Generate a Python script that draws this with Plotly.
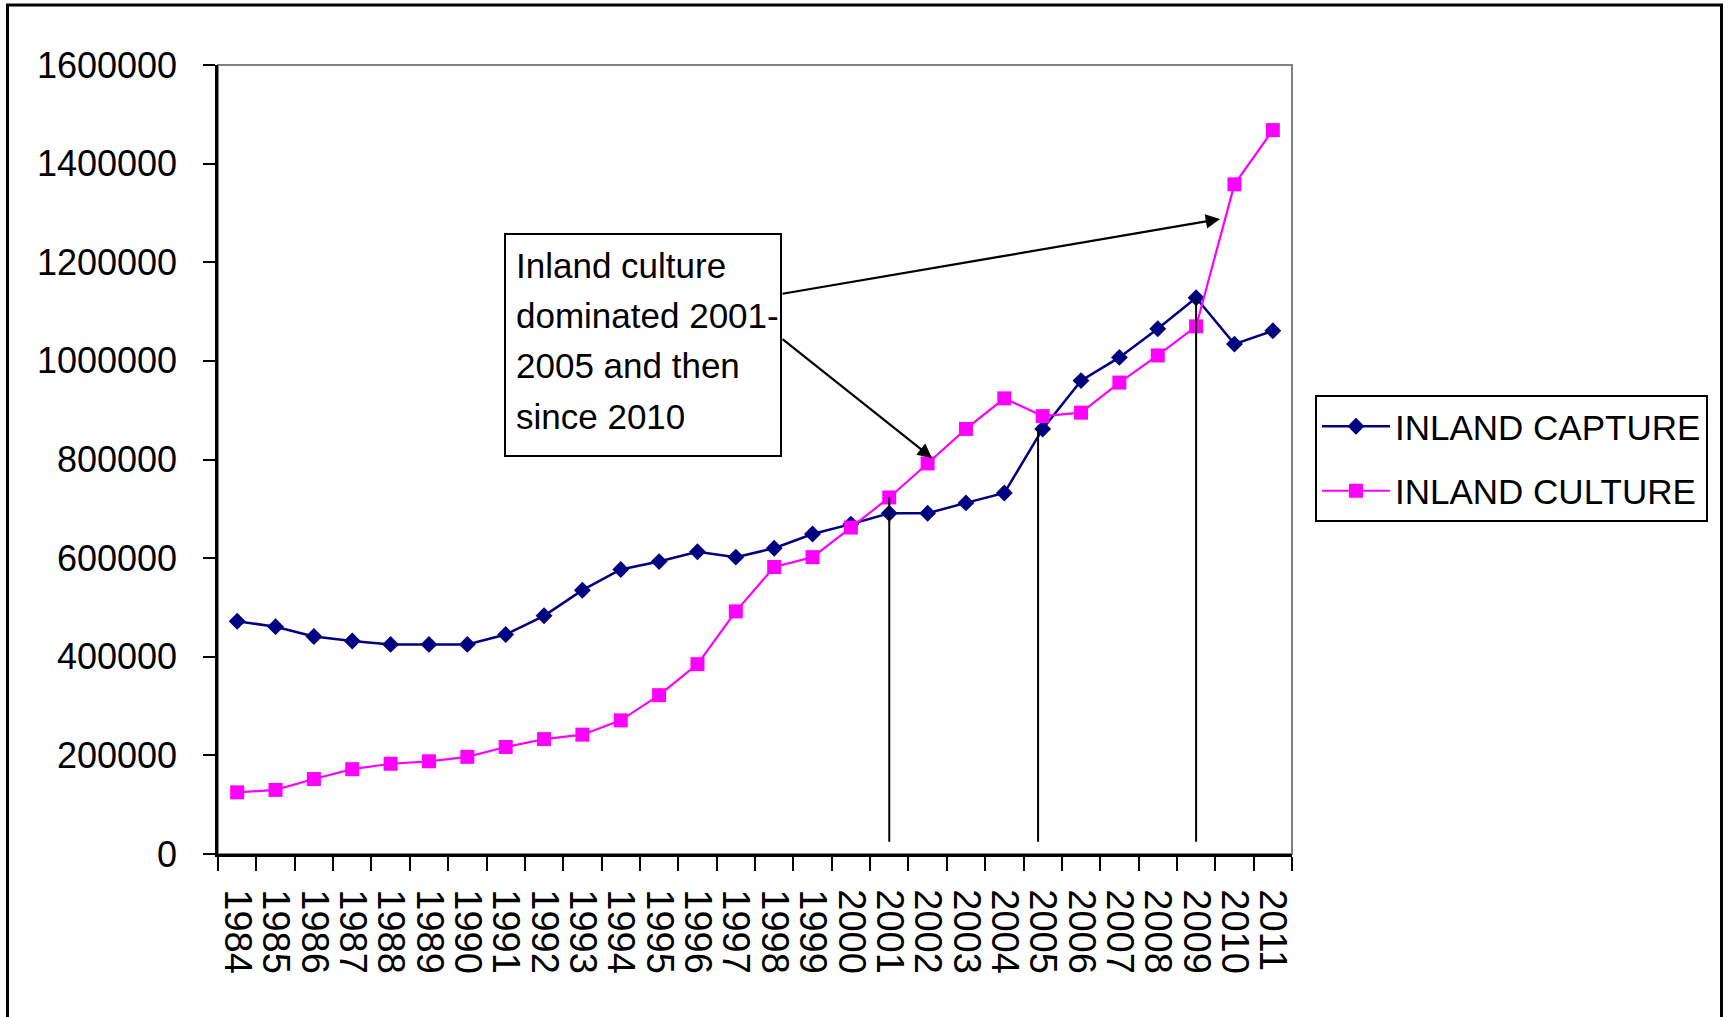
import plotly.graph_objects as go

# Inland fish production by year (tonnes)
YEARS = ["1984", "1985", "1986", "1987", "1988", "1989", "1990", "1991",
         "1992", "1993", "1994", "1995", "1996", "1997", "1998", "1999",
         "2000", "2001", "2002", "2003", "2004", "2005", "2006", "2007",
         "2008", "2009", "2010", "2011"]

INLAND_CAPTURE = [472000, 461000, 441000, 432000, 425000, 425000, 425000,
                  445000, 483000, 535000, 577000, 593000, 613000, 602000,
                  620000, 649000, 669000, 691000, 691000, 712000, 732000,
                  862000, 960000, 1007000, 1065000, 1128000, 1034000, 1061000]

INLAND_CULTURE = [125000, 130000, 152000, 172000, 183000, 188000, 197000,
                  217000, 233000, 242000, 271000, 322000, 385000, 492000,
                  582000, 602000, 662000, 723000, 792000, 862000, 924000,
                  888000, 895000, 956000, 1011000, 1070000, 1358000, 1468000]

Y_TICKS = [0, 200000, 400000, 600000, 800000, 1000000, 1200000, 1400000, 1600000]

NOTE_LINES = ["Inland culture", "dominated 2001-", "2005 and then", "since 2010"]

# Page and plot-area geometry (pixels)
W, H = 1729, 1017
PLOT_L, PLOT_R, PLOT_T, PLOT_B = 218, 1292, 65, 854
FONT = "Liberation Sans, Arial, sans-serif"


def px_x(px):
    return (px - PLOT_L) / (PLOT_R - PLOT_L)


def px_y(py):
    return (PLOT_B - py) / (PLOT_B - PLOT_T)


fig = go.Figure()

fig.add_trace(go.Scatter(
    x=YEARS, y=INLAND_CAPTURE, name="INLAND CAPTURE", mode="lines+markers",
    line=dict(color="#000080", width=2.5),
    marker=dict(symbol="diamond", size=13, color="#000080"),
    legendgroup="capture",
))
fig.add_trace(go.Scatter(
    x=YEARS, y=INLAND_CULTURE, name="INLAND CULTURE", mode="lines+markers",
    line=dict(color="#FF00FF", width=2.2),
    marker=dict(symbol="square", size=14, color="#FF00FF"),
    legendgroup="culture",
))

shapes = []

# outer chart frame (bottom edge runs off the page)
shapes.append(dict(type="rect", xref="paper", yref="paper",
                   x0=px_x(7.5), x1=px_x(1721.5), y0=px_y(1060), y1=px_y(5),
                   line=dict(color="black", width=3), layer="below"))

# plot-area border (grey)
shapes.append(dict(type="rect", xref="paper", yref="paper",
                   x0=0, x1=1, y0=0, y1=1,
                   line=dict(color="#808080", width=2), layer="below"))

# drop lines marking the switch-over years
i01 = YEARS.index("2001")
i05 = YEARS.index("2005")
i09 = YEARS.index("2009")
drop_lines = [
    (i01, INLAND_CULTURE[i01]),
    (i05 - 0.12, INLAND_CAPTURE[i05]),
    (i09, INLAND_CAPTURE[i09]),
]
for xi, top in drop_lines:
    shapes.append(dict(type="line", xref="x", yref="y",
                       x0=xi, x1=xi, y0=25000, y1=top,
                       line=dict(color="black", width=2)))

# note box
shapes.append(dict(type="rect", xref="paper", yref="paper",
                   x0=px_x(505), x1=px_x(781), y0=px_y(456), y1=px_y(234),
                   line=dict(color="black", width=2), fillcolor="white"))

annotations = []
for k, line in enumerate(NOTE_LINES):
    annotations.append(dict(
        text=line, xref="paper", yref="paper",
        x=px_x(514), y=px_y(265 + 50.4 * k),
        xanchor="left", yanchor="middle", showarrow=False,
        font=dict(family=FONT, size=35, color="black"),
    ))

# arrows from the note box to the highlighted periods
arrows = [
    ((1220, 219), (781, 294)),
    ((932, 458), (781, 338)),
]
for (hx, hy), (tx, ty) in arrows:
    annotations.append(dict(
        text="", xref="paper", yref="paper", x=px_x(hx), y=px_y(hy),
        axref="pixel", ayref="pixel", ax=tx - hx, ay=ty - hy,
        showarrow=True, arrowhead=2, arrowsize=1.3, arrowwidth=2.2,
        arrowcolor="black", standoff=0,
    ))

fig.update_layout(
    width=W, height=H, autosize=False,
    margin=dict(l=PLOT_L, r=W - PLOT_R, t=PLOT_T, b=H - PLOT_B, pad=0),
    paper_bgcolor="white", plot_bgcolor="white",
    font=dict(family=FONT, size=36, color="black"),
    shapes=shapes, annotations=annotations,
    showlegend=True,
    legend=dict(
        x=px_x(1315), y=px_y(395), xanchor="left", yanchor="top",
        bordercolor="black", borderwidth=2, bgcolor="white",
        font=dict(family=FONT, size=35, color="black"),
        traceorder="grouped", tracegroupgap=16, itemwidth=68,
    ),
)

fig.update_xaxes(
    type="category", categoryorder="array", categoryarray=YEARS,
    tickmode="linear", tick0=0, dtick=1,
    tickson="boundaries", ticks="outside", ticklen=14, tickwidth=2,
    tickcolor="black", tickangle=90, showgrid=False,
    showline=True, linecolor="black", linewidth=2.5,
    tickfont=dict(family=FONT, size=38, color="black"),
    ticklabelstandoff=25, range=[-0.5, len(YEARS) - 0.5],
)
fig.update_yaxes(
    range=[0, 1600000], tickvals=Y_TICKS, tickformat="d",
    ticks="outside", ticklen=12, tickwidth=2, tickcolor="black",
    showgrid=False, zeroline=False,
    showline=True, linecolor="black", linewidth=2.5,
    tickfont=dict(family=FONT, size=36, color="black"),
    ticklabelstandoff=19,
)

fig.write_html("out.html")
